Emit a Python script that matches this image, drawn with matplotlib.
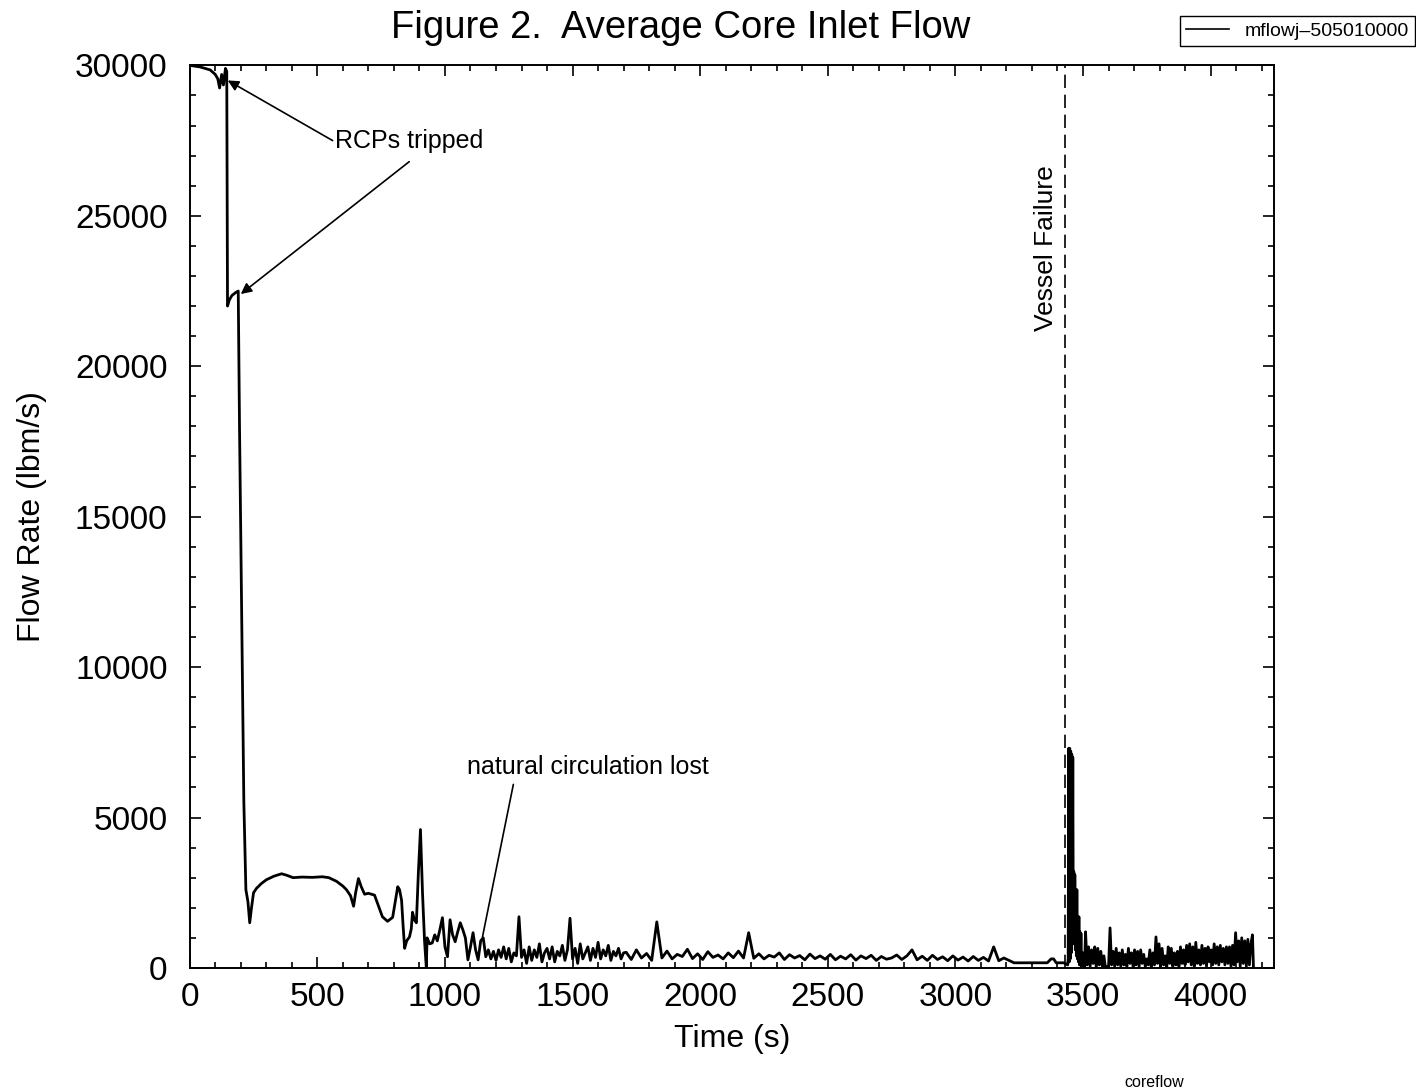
import matplotlib.pyplot as plt
import numpy as np

plt.rcParams['font.family'] = ['Liberation Sans', 'DejaVu Sans']

# pump trip and early natural circulation transient
t_start = [0, 40, 80, 100, 110, 117, 125, 132, 140, 145, 148, 155, 165, 180, 190,
           195, 203, 212, 220, 228, 235, 242, 250, 262, 280, 300, 330, 360, 380,
           405, 440, 480, 520, 545, 575, 600, 614, 630, 642, 650, 661, 672, 685,
           700, 724, 740, 755, 775, 795, 805, 815, 822, 830, 836, 842, 850, 861,
           868, 873, 880, 888, 896, 904, 912, 920, 927]
f_start = [30000, 29950, 29850, 29700, 29550, 29250, 29700, 29350, 29900, 29800,
           22000, 22200, 22350, 22450, 22500, 18000, 12000, 5500, 2600, 2200, 1500,
           2000, 2500, 2650, 2800, 2930, 3050, 3130, 3080, 3000, 3020, 3010, 3030,
           3000, 2880, 2720, 2600, 2400, 2050, 2500, 2970, 2700, 2450, 2480, 2420,
           2050, 1700, 1550, 1680, 2200, 2700, 2600, 2250, 1400, 650, 900, 1030,
           1300, 1850, 1600, 1500, 3200, 4600, 2500, 900, 0]

# oscillating flow from 930 s, every 10 s
f_osc = [1000, 800, 830, 1100, 900, 1270, 1670, 700, 370, 1600,
         1100, 870, 1200, 1500, 1270, 1000, 270, 700, 1170, 600,
         270, 900, 1000, 370, 600, 300, 550, 250, 600, 350,
         700, 300, 650, 200, 500, 400, 1700, 350, 600, 150,
         700, 250, 600, 350, 800, 200, 500, 650, 300, 700,
         200, 550, 400, 750, 250, 600, 1650, 300, 650, 150,
         800, 300, 500, 700, 250, 650, 350, 850, 300, 600,
         400, 750, 250, 550, 400, 650, 300, 500]

# low flow from 1710 s, every 20 s
f_low = [520, 280, 600, 330, 480, 250, 1530,
         330, 560, 300, 450, 380, 620, 310, 470, 280, 540, 350, 430, 300, 500,
         340, 560, 330, 1170,
         320, 470, 300, 420, 360, 500, 280, 440, 330, 410, 270, 460, 310, 400,
         290, 450, 270, 390, 300, 440, 260, 400, 310, 420, 250, 380, 290, 330,
         430, 280, 400, 600,
         270, 390, 250, 420, 280, 370, 240, 400, 260, 360, 230, 380, 250, 350,
         230, 700, 240, 330]

t_flat = [3210, 3230, 3300, 3360, 3375, 3385, 3395, 3425, 3440]
f_flat = [250, 170, 170, 170, 300, 300, 170, 170, 100]

# burst right after vessel failure, every 2 s from 3442 s
f_burst = [300, 7300, 200, 7300, 300, 7200, 500, 7100, 800, 7000,
           1500, 3200, 800, 3100, 600, 2600, 400, 2600, 300, 1700,
           200, 1700, 100, 1200, 100, 1150, 50, 500, 50, 500,
           0, 100, 0]

# chugging flow from 3510 s, every 6 s
f_chug = [1200, 100, 700, 50, 600, 150, 700, 0, 650,
          100, 550, 50, 400, 0, 50, 0, 1330, 100, 550,
          50, 650, 100, 500, 50, 600, 100, 450, 50, 650,
          150, 500, 50, 600, 100, 550, 50, 600, 150, 450,
          50, 300, 100, 600, 0, 500, 100, 1030, 150, 800,
          50, 650, 100, 400, 0, 700, 150, 650, 50, 500,
          100, 550, 50, 700, 150, 600, 100, 750, 200, 800,
          100, 700, 50, 850, 150, 600, 100, 750, 150, 650,
          50, 700, 200, 600, 100, 800, 150, 700, 100, 750,
          200, 650, 100, 700, 150, 700, 50, 750, 100, 1170,
          200, 900, 50, 1000, 150, 900, 50, 950, 100, 800,
          1100]

t_osc = 930 + 10 * np.arange(len(f_osc))
t_low = 1710 + 20 * np.arange(len(f_low))
t_burst = 3442 + 2 * np.arange(len(f_burst))
t_chug = 3510 + 6 * np.arange(len(f_chug))

t_all = np.concatenate([t_start, t_osc, t_low, t_flat, t_burst, t_chug, [4168]])
f_all = np.concatenate([f_start, f_osc, f_low, f_flat, f_burst, f_chug, [0]])

t_vessel = 3428

fig = plt.figure(figsize=(14.16, 10.9), dpi=100)
ax = fig.add_axes([0.134, 0.112, 0.766, 0.828])

ax.plot(t_all, f_all, color='k', lw=2.0, label='mflowj\u2013505010000')
ax.axvline(t_vessel, color='k', lw=1.2, dashes=(8, 4))

ax.set_xlim(0, 4250)
ax.set_ylim(0, 30000)
ax.set_xticks(np.arange(0, 4001, 500))
ax.set_xticks(np.arange(0, 4250, 100), minor=True)
ax.set_yticks(np.arange(0, 30001, 5000))
ax.set_yticks(np.arange(0, 30001, 1000), minor=True)
ax.tick_params(which='both', direction='in', top=True, right=True, width=1.2)
ax.tick_params(which='major', length=8)
ax.tick_params(which='minor', length=4.5)
ax.tick_params(axis='x', labelsize=24, pad=10)
ax.tick_params(axis='y', labelsize=24, pad=16)
for s in ax.spines.values():
    s.set_linewidth(1.4)

ax.set_xlabel('Time (s)', fontsize=23, labelpad=8)
ax.set_ylabel('Flow Rate (lbm/s)', fontsize=23, labelpad=20)
fig.text(0.481, 0.974, 'Figure 2.  Average Core Inlet Flow', fontsize=27.5,
         ha='center', va='center')

# annotations
ax.text(570, 27500, 'RCPs tripped', fontsize=18, ha='left', va='center')
arw = dict(arrowstyle='-|>', color='k', lw=1.2, mutation_scale=16,
           shrinkA=0, shrinkB=0)
ax.annotate('', xy=(149, 29500), xytext=(560, 27500), arrowprops=arw)
ax.annotate('', xy=(200, 22400), xytext=(860, 26800), arrowprops=arw)

ax.text(1088, 6670, 'natural circulation lost', fontsize=18, ha='left', va='center')
ax.annotate('', xy=(1147, 1030), xytext=(1268, 6100),
            arrowprops=dict(arrowstyle='-', color='k', lw=1.2, shrinkA=0, shrinkB=0))

ax.text(3354, 23930, 'Vessel Failure', fontsize=19, rotation=90,
        ha='center', va='center')

leg = ax.legend(loc='upper right', bbox_to_anchor=(0.999, 0.985),
                bbox_transform=fig.transFigure, fontsize=14, handlelength=2.2,
                fancybox=False, edgecolor='k', framealpha=1,
                borderpad=0.3, borderaxespad=0)
leg.get_frame().set_linewidth(1.0)
for h in leg.get_lines():
    h.set_linewidth(1.2)

fig.text(0.815, 0.0065, 'coreflow', fontsize=11.5, ha='center', va='center')

fig.savefig('out.png', dpi=100)
